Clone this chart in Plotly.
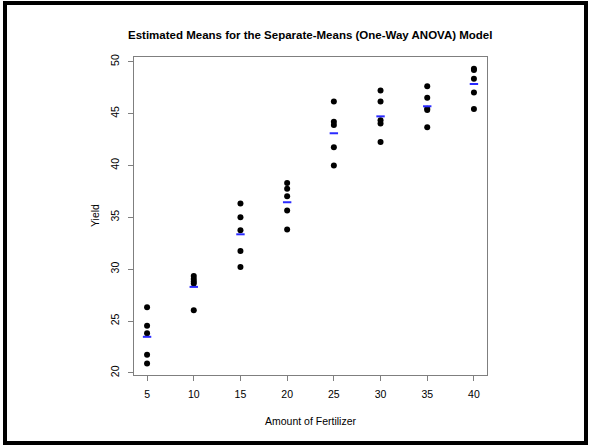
import plotly.graph_objects as go

fertilizer_levels = [5, 10, 15, 20, 25, 30, 35, 40]
yield_5 = [26.33, 24.54, 23.83, 21.74, 20.91]
yield_10 = [29.35, 29.06, 28.81, 28.61, 26.04]
yield_15 = [36.32, 35.00, 33.75, 31.76, 30.22]
yield_20 = [38.31, 37.74, 37.03, 35.65, 33.82]
yield_25 = [46.15, 44.22, 43.90, 41.74, 40.00]
yield_30 = [47.21, 46.15, 44.35, 44.03, 42.26]
yield_35 = [47.62, 46.53, 45.47, 45.35, 43.67]
yield_40 = [49.31, 49.20, 48.36, 47.04, 45.44]
group_means = [23.48, 28.29, 33.36, 36.45, 43.10, 44.73, 45.70, 47.85]
x_ticks = [5, 10, 15, 20, 25, 30, 35, 40]
y_ticks = [20, 25, 30, 35, 40, 45, 50]

groups = [yield_5, yield_10, yield_15, yield_20, yield_25, yield_30, yield_35, yield_40]
xs, ys = [], []
for lvl, g in zip(fertilizer_levels, groups):
    for v in g:
        xs.append(lvl)
        ys.append(v)

FONT = "Liberation Sans, Arial, sans-serif"
W, H = 590, 445
L, R, T, B = 134, 103, 57, 70
pw, ph = W - L - R, H - T - B

def px(x):
    return (x - L) / pw

def py(y):
    return (H - B - y) / ph

fig = go.Figure()
fig.add_trace(go.Scatter(x=xs, y=ys, mode="markers",
                         marker=dict(color="black", size=6, line=dict(width=0)),
                         hoverinfo="x+y", showlegend=False))
fig.add_trace(go.Scatter(x=fertilizer_levels, y=group_means, mode="markers",
                         marker=dict(symbol="line-ew", size=6,
                                     line=dict(color="#2a2aff", width=2)),
                         showlegend=False))

axis_common = dict(showgrid=False, zeroline=False, showline=True, mirror=True,
                   linecolor="#7f7f7f", linewidth=1, ticks="outside", ticklen=5,
                   tickcolor="#7f7f7f", tickwidth=1,
                   tickfont=dict(family=FONT, size=10.5, color="black"))

fig.update_xaxes(range=[3.6, 41.4], tickvals=x_ticks, ticklabelstandoff=4, **axis_common)
fig.update_yaxes(range=[19.8, 50.45], tickvals=y_ticks, tickangle=-90,
                 ticklabelstandoff=5, **axis_common)

fig.update_layout(
    width=W, height=H,
    margin=dict(l=L, r=R, t=T, b=B),
    paper_bgcolor="white", plot_bgcolor="white",
    showlegend=False,
    annotations=[
        dict(text="<b>Estimated Means for the Separate-Means (One-Way ANOVA) Model</b>",
             x=px(310), y=py(35), xref="paper", yref="paper", showarrow=False,
             xanchor="center", yanchor="middle",
             font=dict(family=FONT, size=11.5, color="black")),
        dict(text="Amount of Fertilizer", x=px(311), y=py(421), xref="paper", yref="paper",
             showarrow=False, xanchor="center", yanchor="middle",
             font=dict(family=FONT, size=10.5, color="black")),
        dict(text="Yield", x=px(95), y=py(216), xref="paper", yref="paper",
             showarrow=False, xanchor="center", yanchor="middle", textangle=-90,
             font=dict(family=FONT, size=10.5, color="black")),
    ],
    shapes=[
        dict(type="rect", xref="paper", yref="paper",
             x0=px(5), x1=px(586), y0=py(443), y1=py(3),
             line=dict(color="black", width=4), fillcolor="rgba(0,0,0,0)", layer="below"),
    ],
)

fig.write_html("out.html", config={"displayModeBar": False},
               post_script="document.body.style.margin='0';document.body.style.overflow='hidden';")
